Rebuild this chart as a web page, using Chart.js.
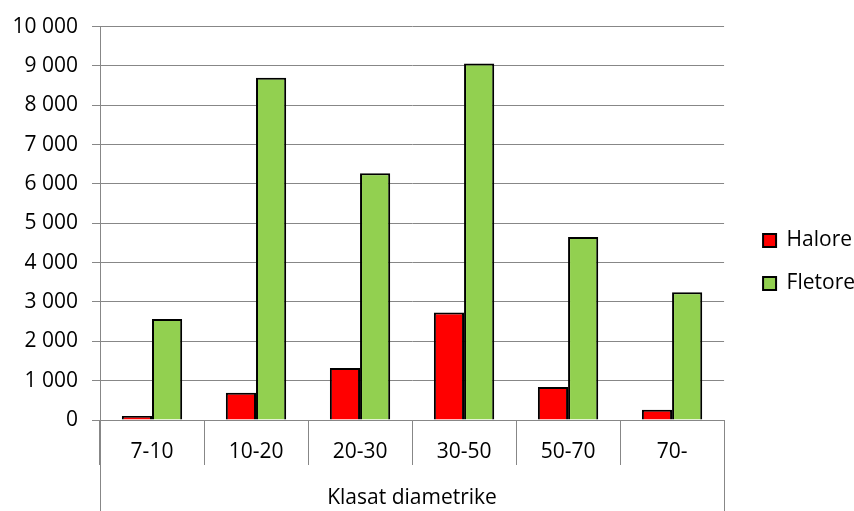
<!DOCTYPE html>
<html lang="sq">
<head>
  <meta charset="UTF-8" />
  <title>Klasat diametrike</title>
  <script src="https://cdn.jsdelivr.net/npm/chart.js"></script>
  <style>
    html, body { margin: 0; padding: 0; background: #fff; }
    #wrap { width: 854px; height: 511px; }
  </style>
</head>
<body>
  <div id="wrap"><canvas id="grafik"></canvas></div>

  <script>
    const klasat = ['7-10', '10-20', '20-30', '30-50', '50-70', '70-'];
    const halore = [100, 690, 1320, 2730, 840, 260];
    const fletore = [2570, 8700, 6270, 9060, 4650, 3250];
    const yTicks = [0, 1000, 2000, 3000, 4000, 5000, 6000, 7000, 8000, 9000, 10000];

    const GRID = '#878787';
    const FONT = '"Open Sans", sans-serif';

    // vijat anesore te boshtit x qe zbresin deri poshte
    const anet = {
      id: 'anet',
      afterDraw(chart) {
        const { ctx, chartArea } = chart;
        ctx.save();
        ctx.strokeStyle = GRID;
        ctx.lineWidth = 1;
        ctx.beginPath();
        [chartArea.left, chartArea.right].forEach(x => {
          const px = Math.round(x) + 0.5;
          ctx.moveTo(px, chartArea.bottom);
          ctx.lineTo(px, chart.height);
        });
        ctx.stroke();
        ctx.restore();
      }
    };

    new Chart(document.getElementById('grafik'), {
      type: 'bar',
      data: {
        labels: klasat,
        datasets: [
          { label: 'Halore', data: halore, backgroundColor: '#FF0000', borderColor: '#000', borderWidth: 2,
            categoryPercentage: 0.58, barPercentage: 1 },
          { label: 'Fletore', data: fletore, backgroundColor: '#92D050', borderColor: '#000', borderWidth: 2,
            categoryPercentage: 0.58, barPercentage: 1 }
        ]
      },
      options: {
        responsive: true,
        maintainAspectRatio: false,
        animation: false,
        layout: { padding: { top: 13, right: -11, left: 0, bottom: 0 } },
        plugins: {
          tooltip: { enabled: false },
          legend: {
            position: 'right',
            labels: {
              color: '#000',
              font: { family: FONT, size: 21 },
              boxWidth: 13,
              boxHeight: 13,
              padding: 22
            }
          }
        },
        scales: {
          x: {
            offset: true,
            grid: { offset: true, drawOnChartArea: false, color: GRID, tickLength: 45 },
            border: { color: GRID },
            ticks: { color: '#000', font: { family: FONT, size: 21 }, padding: -26 },
            title: { display: true, text: 'Klasat diametrike', color: '#000',
                     font: { family: FONT, size: 21 }, padding: { top: 0, bottom: 0 } },
            afterFit(scale) { scale.height = 91; }
          },
          y: {
            min: 0,
            max: 10000,
            afterBuildTicks(scale) { scale.ticks = yTicks.map(v => ({ value: v })); },
            grid: { color: GRID, tickLength: 8 },
            border: { color: GRID },
            ticks: {
              color: '#000',
              font: { family: FONT, size: 21 },
              padding: 14,
              callback: v => String(v).replace(/\B(?=(\d{3})+(?!\d))/g, ' ')
            },
            afterFit(scale) { scale.width = 100; }
          },
          // hapesire bosh midis grafikut dhe legjendes
          hapesire: {
            position: 'right',
            grid: { display: false },
            border: { display: false },
            ticks: { display: false },
            afterFit(scale) { scale.width = 17; }
          }
        }
      },
      plugins: [anet]
    });
  </script>
</body>
</html>
